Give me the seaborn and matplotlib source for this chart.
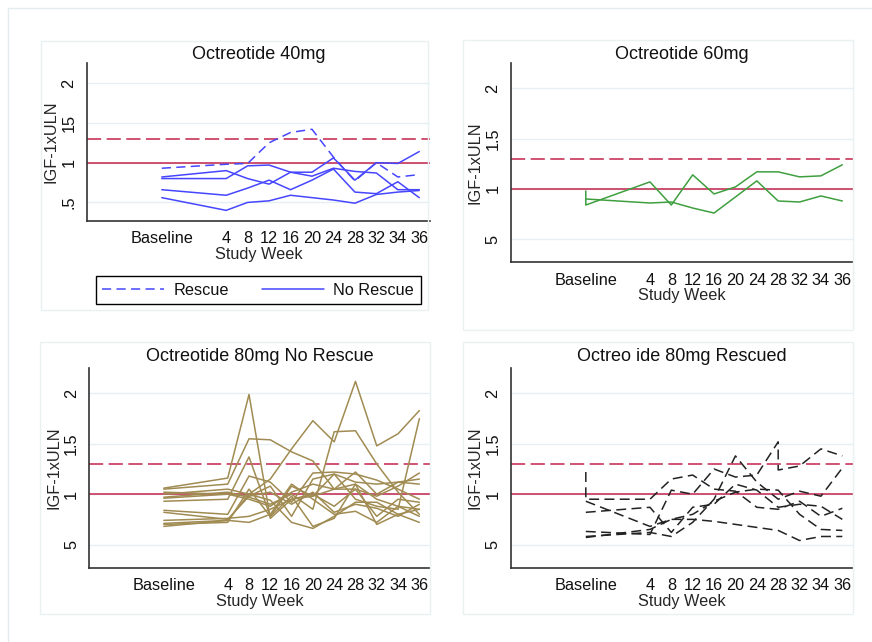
import matplotlib
matplotlib.use("Agg")
import matplotlib.pyplot as plt
import seaborn as sns
import pandas as pd
from matplotlib.lines import Line2D
from matplotlib.patches import Rectangle

# ---------------------------------------------------------------- data
visits = ["Baseline", "4", "8", "12", "16", "20", "24", "28", "32", "34", "36"]
visit_pos = [0, 3, 4, 5, 6, 7, 8, 9, 10, 11, 12]   # Baseline set apart on the axis

ytick_vals = [0.5, 1.0, 1.5, 2.0]
ytick_labels_40 = [".5", "1", "15", "2"]
ytick_labels = ["5", "1", "1.5", "2"]

uln_line = 1.0
rescue_threshold = 1.3

# Octreotide 40mg: one rescued subject, four without rescue
oct40_rescue = [
    [0.93, 0.98, 0.99, 1.25, 1.38, 1.42, 1.07, 0.77, 1.00, 0.82, 0.85],
]
oct40_norescue = [
    [0.82, 0.90, 0.80, 0.73, 0.88, 0.88, 1.06, 0.78, 1.00, 0.99, 1.14],
    [0.80, 0.80, 0.96, 0.97, 0.88, 0.83, 0.93, 0.89, 0.87, 0.66, 0.66],
    [0.66, 0.59, 0.68, 0.78, 0.66, 0.78, 0.92, 0.63, 0.61, 0.76, 0.56],
    [0.56, 0.40, 0.50, 0.52, 0.59, 0.56, 0.53, 0.49, 0.60, 0.63, 0.65],
]

# Octreotide 60mg (first subject has a repeat baseline draw)
oct60_visits = [
    ["Baseline", "Baseline", "4", "8", "12", "16", "20", "24", "28", "32", "34", "36"],
    visits,
]
oct60_values = [
    [0.98, 0.84, 1.07, 0.84, 1.14, 0.95, 1.02, 1.17, 1.17, 1.12, 1.13, 1.24],
    [0.90, 0.86, 0.87, 0.81, 0.76, 0.92, 1.08, 0.88, 0.87, 0.93, 0.88],
]

# Octreotide 80mg, never rescued
oct80_norescue = [
    [1.06, 1.16, 1.99, 0.76, 0.95, 0.98, 1.05, 1.10, 0.95, 0.88, 0.85],
    [1.05, 1.10, 1.55, 1.54, 1.42, 1.33, 1.05, 1.22, 1.00, 1.12, 1.10],
    [1.00, 1.05, 1.00, 1.15, 1.45, 1.73, 1.52, 2.12, 1.48, 1.60, 1.83],
    [0.97, 1.02, 0.97, 0.90, 1.00, 0.85, 1.62, 1.63, 1.30, 1.02, 0.80],
    [0.93, 0.95, 1.37, 0.78, 1.08, 0.98, 1.20, 1.12, 1.10, 1.12, 1.15],
    [0.84, 0.80, 1.18, 1.12, 0.92, 1.21, 1.22, 1.20, 1.14, 1.05, 0.95],
    [0.82, 0.75, 0.98, 1.08, 0.78, 1.15, 1.20, 0.95, 0.88, 0.85, 1.75],
    [0.74, 0.76, 0.78, 0.85, 0.95, 1.00, 0.88, 1.05, 0.78, 0.95, 0.92],
    [0.71, 0.74, 0.72, 0.80, 1.10, 0.95, 0.80, 0.83, 0.72, 0.88, 0.78],
    [0.70, 0.72, 1.05, 0.78, 0.98, 0.68, 0.76, 1.10, 0.70, 0.80, 0.72],
    [0.68, 0.74, 1.00, 0.94, 0.72, 0.66, 0.78, 0.92, 0.92, 0.80, 0.85],
    [0.96, 1.00, 0.95, 0.88, 1.02, 1.10, 1.05, 1.05, 0.98, 1.08, 1.21],
    [1.02, 1.00, 0.98, 1.02, 0.90, 1.02, 0.82, 0.90, 0.86, 0.78, 0.90],
]

# Octreotide 80mg, rescued (some subjects have repeat draws)
oct80_rescued_visits = [
    ["Baseline", "Baseline", "4", "8", "12", "16", "20", "24", "28", "32", "34", "36"],
    visits,
    ["Baseline", "4", "8", "12", "16", "20", "24", "28", "28", "32", "34", "36"],
    visits,
    visits,
    visits,
]
oct80_rescued_values = [
    [1.22, 0.95, 0.95, 1.15, 1.19, 1.05, 1.03, 0.87, 0.85, 0.93, 0.78, 0.86],
    [0.82, 0.87, 0.62, 0.87, 0.90, 1.10, 1.04, 0.87, 0.90, 0.88, 0.75],
    [0.63, 0.60, 1.04, 1.00, 1.25, 1.17, 1.19, 1.52, 1.24, 1.28, 1.45, 1.38],
    [0.58, 0.62, 0.58, 0.72, 0.95, 1.38, 1.12, 0.95, 1.03, 0.98, 1.26],
    [0.93, 0.68, 0.75, 0.75, 0.73, 0.70, 0.67, 0.64, 0.54, 0.58, 0.58],
    [0.57, 0.65, 0.75, 0.80, 0.93, 1.02, 1.05, 1.04, 0.80, 0.65, 0.64],
]

# ---------------------------------------------------------------- tidy table
pos_of = dict(zip(visits, visit_pos))


def to_frame(series, visit_lists=None, group=""):
    rows = []
    for sid, vals in enumerate(series):
        vis = visit_lists[sid] if visit_lists else visits
        for k, (v, y) in enumerate(zip(vis, vals)):
            rows.append({"subject": sid, "order": k, "visit": v,
                         "pos": pos_of[v], "value": y, "group": group})
    return pd.DataFrame(rows)


df40 = pd.concat([
    to_frame(oct40_rescue, group="Rescue"),
    to_frame(oct40_norescue, group="No Rescue").assign(subject=lambda d: d.subject + 100),
], ignore_index=True)
df60 = to_frame(oct60_values, oct60_visits, "No Rescue")
df80n = to_frame(oct80_norescue, group="No Rescue")
df80r = to_frame(oct80_rescued_values, oct80_rescued_visits, "Rescue")

# ---------------------------------------------------------------- style
sns.set_style("white")
plt.rcParams["font.family"] = ["Liberation Sans", "DejaVu Sans"]
plt.rcParams["text.color"] = "#111111"

W, H = 872, 642
fig = plt.figure(figsize=(W / 100, H / 100), dpi=100)
fig.patch.set_facecolor("white")

REF = "#c8345a"
BLUE = "#4646ff"
GREEN = "#3f9f3f"
TAN = "#a08b52"
DARK = "#222222"
AXC = "#333333"
FS = 11.7
LW = 1.1


def px_axes(l, t, r, b):
    return fig.add_axes([l / W, 1 - b / H, (r - l) / W, (b - t) / H])


def frame_box(l, t, r, b, color="#eaf1f3"):
    fig.patches.append(Rectangle((l / W, 1 - b / H), (r - l) / W, (b - t) / H,
                                 transform=fig.transFigure, fill=False,
                                 edgecolor=color, lw=1.0, zorder=0))


# outer graph region and the four panel regions
frame_box(8, 8, W + 5, H + 5, "#e4ecef")
frame_box(41, 41, 428, 310)
frame_box(463, 40, 853, 330)
frame_box(40, 342, 430, 614)
frame_box(463, 342, 853, 614)


def style_axes(ax, title, ylabels, pad):
    ax.set_xlim(-3.5, 12.5)
    ax.set_ylim(0.27, 2.25)
    ax.set_xticks(visit_pos)
    ax.set_xticklabels(visits, fontsize=FS)
    ax.set_yticks(ytick_vals)
    ax.set_yticklabels(ylabels, fontsize=FS, rotation=90, va="center")
    ax.grid(axis="y", color="#e6eff1", lw=1.0)
    ax.grid(axis="x", visible=False)
    ax.set_axisbelow(True)
    for s in ["top", "right"]:
        ax.spines[s].set_visible(False)
    for s in ["left", "bottom"]:
        ax.spines[s].set_color(AXC)
        ax.spines[s].set_linewidth(1.2)
    ax.tick_params(axis="both", direction="out", length=4.5, width=1.0,
                   color=AXC, pad=3, labelcolor="#111111")
    ax.set_title(title, fontsize=13, pad=pad)
    ax.set_facecolor("white")
    ax.axhline(uln_line, color=REF, lw=1.2, zorder=1)
    ax.axhline(rescue_threshold, color=REF, lw=1.2, dashes=(8.5, 3.3), zorder=1)


ax1 = px_axes(86.7, 63.3, 430, 220.7)
ax2 = px_axes(511, 63.3, 853, 262.3)
ax3 = px_axes(89.3, 368.3, 430, 567.7)
ax4 = px_axes(511, 368.3, 853, 567.7)

style_axes(ax1, "Octreotide 40mg", ytick_labels_40, 3.3)
style_axes(ax2, "Octreotide 60mg", ytick_labels, 3.3)
style_axes(ax3, "Octreotide 80mg No Rescue", ytick_labels, 5.0)
style_axes(ax4, "Octreo ide 80mg Rescued", ytick_labels, 5.0)

line_dashes = {"Rescue": (6, 3.5), "No Rescue": ""}

sns.lineplot(data=df40, x="pos", y="value", units="subject", estimator=None,
             sort=False, style="group", dashes=line_dashes, color=BLUE,
             lw=LW, legend=False, ax=ax1, zorder=3)
sns.lineplot(data=df60, x="pos", y="value", units="subject", estimator=None,
             sort=False, color=GREEN, lw=LW, legend=False, ax=ax2, zorder=3)
sns.lineplot(data=df80n, x="pos", y="value", units="subject", estimator=None,
             sort=False, color=TAN, lw=LW, legend=False, ax=ax3, zorder=3)
sns.lineplot(data=df80r, x="pos", y="value", units="subject", estimator=None,
             sort=False, style="group", dashes={"Rescue": (6.5, 3.5)},
             color=DARK, lw=LW, legend=False, ax=ax4, zorder=3)

for ax in (ax1, ax2, ax3, ax4):
    ax.set_xlabel("Study Week", fontsize=FS, labelpad=0.5)
    ax.set_ylabel("IGF-1xULN", fontsize=FS, labelpad=2)

handles = [Line2D([], [], color=BLUE, lw=LW, dashes=(6, 3.5)),
           Line2D([], [], color=BLUE, lw=LW)]
leg = fig.legend(handles, ["Rescue", "No Rescue"], ncol=2, loc="center",
                 bbox_to_anchor=(258.3 / W, 1 - 290.4 / H), fontsize=FS,
                 frameon=True, fancybox=False, edgecolor="black", framealpha=1,
                 handlelength=3.8, handletextpad=0.6, columnspacing=2.0,
                 borderpad=0.4, borderaxespad=0)
leg.get_frame().set_linewidth(1.0)

fig.savefig("out.png", dpi=100, facecolor="white")
